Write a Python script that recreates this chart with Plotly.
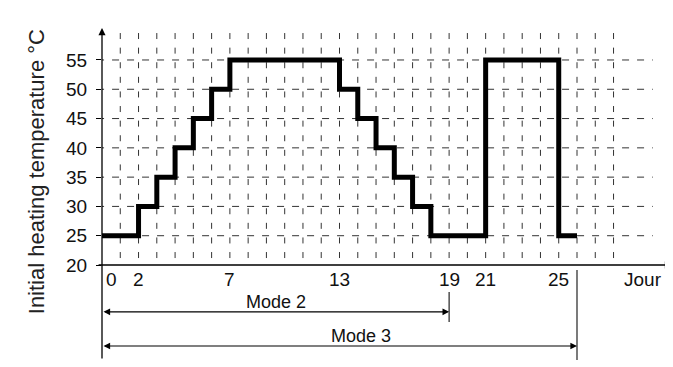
import plotly.graph_objects as go

# step profile: day where each level starts, and the temperature level
days = [0, 2, 3, 4, 5, 6, 7, 13, 14, 15, 16, 17, 18, 21, 25, 26]
temps = [25, 30, 35, 40, 45, 50, 55, 50, 45, 40, 35, 30, 25, 55, 25, 25]

x_tick_days = [0, 2, 7, 13, 19, 21, 25]
x_tick_text = ["0", "2", "7", "13", "19", "21", "25"]
y_tick_temps = [20, 25, 30, 35, 40, 45, 50, 55]
grid_days = list(range(1, 29))
grid_temps = [25, 30, 35, 40, 45, 50, 55]

mode_names = ["Mode 2", "Mode 3"]
mode_end_days = [19, 26]

FONT = "Liberation Sans, Arial, sans-serif"
X_MAX = 31.2
Y_MIN, Y_MAX = 3.44, 60.46

fig = go.Figure()
fig.add_trace(go.Scatter(
    x=days,
    y=temps,
    mode="lines",
    line=dict(shape="hv", color="black", width=5),
    hoverinfo="skip",
    showlegend=False,
))

# dashed grid, only inside the graph part
for d in grid_days:
    fig.add_shape(type="line", x0=d, x1=d, y0=59.6, y1=20, layer="below",
                  line=dict(color="#333", width=1, dash="6px,8.6px"))
for t in grid_temps:
    fig.add_shape(type="line", x0=-0.27, x1=30.15, y0=t, y1=t, layer="below",
                  line=dict(color="#333", width=1, dash="7px,8px"))


def arrow(x, y, ax, ay, both=False, width=1.3):
    fig.add_annotation(
        x=x, y=y, ax=ax, ay=ay,
        xref="x", yref="y", axref="x", ayref="y",
        text="", showarrow=True,
        arrowhead=2, arrowsize=1.1, arrowwidth=width, arrowcolor="black",
        arrowside="end+start" if both else "end",
    )


# axes with arrow tips
arrow(0, Y_MAX, 0, 3.78)
arrow(X_MAX, 20, -0.27, 20)

# x labels
for d, txt in zip(x_tick_days, x_tick_text):
    fig.add_annotation(x=d, y=17.6, text=txt, showarrow=False,
                       xanchor="left" if d == 0 else "center", xshift=2 if d == 0 else 0,
                       font=dict(family=FONT, size=19, color="#111"))
fig.add_annotation(x=29.6, y=17.6, text="Jour", showarrow=False,
                   font=dict(family=FONT, size=19, color="#111"))

# mode ranges
mode_y = [12.0, 6.17]
mode_text_x = [9.5, 14.2]
mode_text_y = [13.68, 7.88]
mode_bar = [(15.39, 10.27), (19.15, 3.78)]
for name, end, yl, tx, ty, (b0, b1) in zip(mode_names, mode_end_days, mode_y,
                                             mode_text_x, mode_text_y, mode_bar):
    arrow(end, yl, 0, yl, both=True, width=1.2)
    fig.add_shape(type="line", x0=end, x1=end, y0=b0, y1=b1,
                  line=dict(color="#222", width=1.2))
    fig.add_annotation(x=tx, y=ty, text=name, showarrow=False,
                       font=dict(family=FONT, size=18, color="#111"))

fig.add_annotation(
    xref="paper", yref="paper", x=-0.139, y=0.569,
    text="Initial heating temperature °C", textangle=-90, showarrow=False,
    font=dict(family=FONT, size=22, color="#222"),
)

# the page keeps an 8px body margin, so the figure is 8px smaller each way
fig.update_layout(
    width=665,
    height=359,
    margin=dict(l=94, r=1, t=20, b=5),
    plot_bgcolor="white",
    paper_bgcolor="white",
    showlegend=False,
    xaxis=dict(range=[0, X_MAX], visible=False),
    yaxis=dict(
        range=[Y_MIN, Y_MAX],
        tickvals=y_tick_temps,
        ticks="outside", ticklen=5, tickcolor="black", tickwidth=1,
        ticklabelstandoff=5,
        tickfont=dict(family=FONT, size=19, color="#111"),
        showline=False, showgrid=False, zeroline=False,
    ),
)

fig.write_html("out.html")
